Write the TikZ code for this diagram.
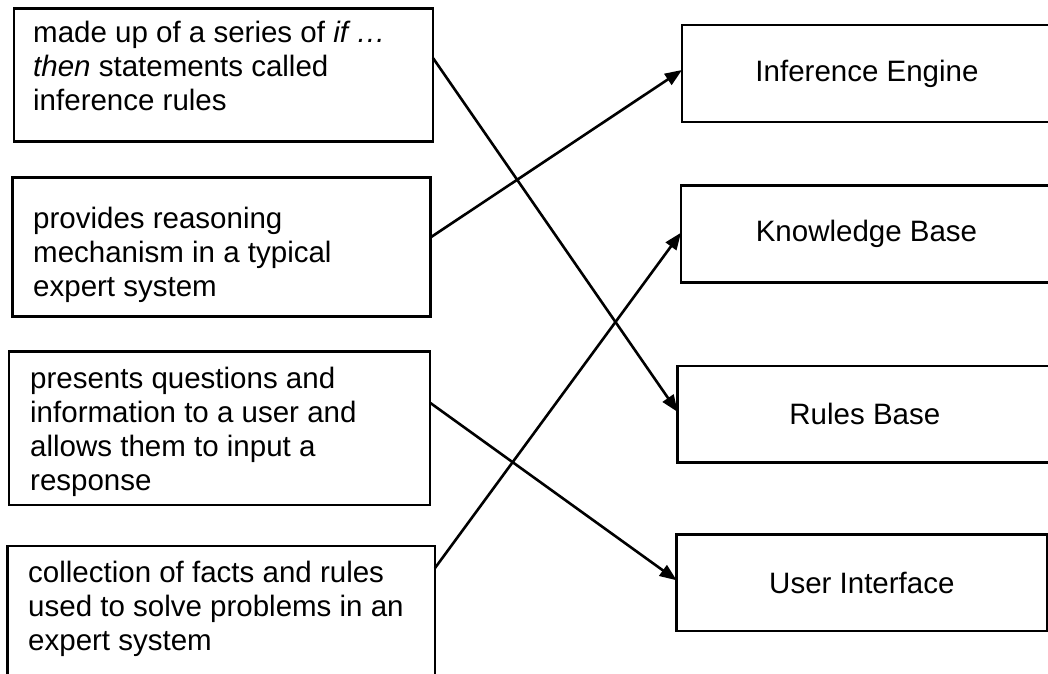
\documentclass[tikz,border=0pt]{standalone}
\usepackage{fontspec}
\setmainfont{Liberation Sans}
\usetikzlibrary{arrows.meta,calc}
\begin{document}
\begin{tikzpicture}[x=1pt,y=-1pt,
  box/.style={draw, line width=2.8pt, inner sep=0pt, outer sep=0pt, anchor=north west},
  desc/.style={anchor=north west, inner sep=0pt, align=left, font=\fontsize{29.5}{34}\selectfont},
  lbl/.style={font=\fontsize{29.5}{34}\selectfont},
  conn/.style={line width=2.6pt, -{Triangle[length=17pt,width=13pt]}}]
\useasboundingbox (0,0) rectangle (1048,673);
% left description boxes
\node[box, minimum width=419pt, minimum height=133.4pt] (l1) at (14,8.3) {};
\node[box, minimum width=418pt, minimum height=139.4pt] (l2) at (12.7,177.3) {};
\node[box, minimum width=421pt, minimum height=153.3pt] (l3) at (9,351.7) {};
\node[box, minimum width=427.7pt, minimum height=140pt] (l4) at (7.3,546) {};
\node[desc] (t1) at (33,20.5) {made up of a series of \textit{if …}\\\textit{then} statements called\\inference rules};
\node[desc] (t2) at (33,206.5) {provides reasoning\\mechanism in a typical\\expert system};
\node[desc] (t3) at (30,366.5) {presents questions and\\information to a user and\\allows them to input a\\response};
\node[desc] (t4) at (28,560.5) {collection of facts and rules\\used to solve problems in an\\expert system};
% right term boxes
\node[box, lbl, minimum width=370pt, minimum height=97pt] (ie) at (682,25) {Inference Engine};
\node[box, lbl, minimum width=371pt, minimum height=96.6pt] (kb) at (681,185.7) {Knowledge Base};
\node[box, lbl, minimum width=374.3pt, minimum height=96.7pt] (rb) at (677.7,366) {Rules Base};
\node[box, lbl, minimum width=370.3pt, minimum height=96.7pt] (ui) at (676.7,534.3) {User Interface};
% connectors
\draw[conn] ($(l1.north east)+(0,49.7)$) -- ($(rb.north west)+(0,46)$);
\draw[conn] ($(l2.north east)+(0,60)$) -- ($(ie.north west)+(0,45)$);
\draw[conn] ($(l3.north east)+(0,51)$) -- ($(ui.north west)+(0,46)$);
\draw[conn] ($(l4.north east)+(0,22)$) -- ($(kb.north west)+(0,47)$);
\end{tikzpicture}
\end{document}
